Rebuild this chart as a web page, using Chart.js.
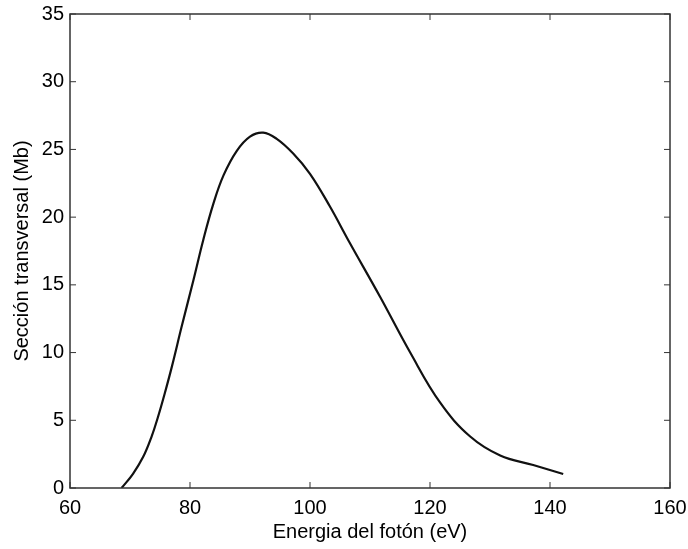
<!DOCTYPE html>
<html>
<head>
<meta charset="utf-8">
<script src="https://cdn.jsdelivr.net/npm/chart.js@4"></script>
<style>
  html, body { margin: 0; padding: 0; background: #fff; }
  #wrap { width: 688px; height: 549px; }
</style>
</head>
<body>
<div id="wrap"><canvas id="sigma-chart" width="688" height="549"></canvas></div>
<script>
// photon energy (eV) and cross section (Mb)
const energy = [68.6, 70.5, 72.2, 73.6, 74.7, 75.8, 77, 78.6, 80.6, 82.2, 83.9, 85.6, 87.8, 90, 92.2, 94.4, 97.2, 100, 103.3, 106.5, 111.7, 116.7, 121.7, 126.7, 131.7, 137.2, 142.2];
const sigma  = [0.0, 1.05, 2.3, 3.8, 5.3, 7.0, 9.0, 11.9, 15.4, 18.3, 21.0, 23.1, 24.9, 25.95, 26.24, 25.8, 24.7, 23.2, 20.8, 18.2, 14.1, 10.0, 6.3, 3.8, 2.4, 1.7, 1.03];
const xTicks = [60, 80, 100, 120, 140, 160];
const yTicks = [0, 5, 10, 15, 20, 25, 30, 35];

const axisColor = '#333';
const fontFam = '"Liberation Sans", Arial, sans-serif';

// box round the plot + inward ticks on all four sides (matlab style)
const boxTicks = {
  id: 'boxTicks',
  afterDatasetsDraw(chart)
  {
    let ctx = chart.ctx;
    let a = chart.chartArea;
    let xs = chart.scales.x, ys = chart.scales.y;
    let len = 6;
    ctx.save();
    ctx.strokeStyle = axisColor;
    ctx.lineWidth = 1.5;
    ctx.strokeRect(a.left, a.top, a.right - a.left, a.bottom - a.top);
    ctx.lineWidth = 1;
    ctx.beginPath();
    xTicks.forEach(v => {
      let px = xs.getPixelForValue(v);
      ctx.moveTo(px, a.bottom); ctx.lineTo(px, a.bottom - len);
      ctx.moveTo(px, a.top); ctx.lineTo(px, a.top + len);
    });
    yTicks.forEach(v => {
      let py = ys.getPixelForValue(v);
      ctx.moveTo(a.left, py); ctx.lineTo(a.left + len, py);
      ctx.moveTo(a.right, py); ctx.lineTo(a.right - len, py);
    });
    ctx.stroke();
    ctx.restore();
  }
};

let pts = energy.map((e, i) => ({ x: e, y: sigma[i] }));

let ctx = document.getElementById('sigma-chart').getContext('2d');
let chart = new Chart(ctx,
{
  type: 'line',
  data:
  {
    datasets: [
    {
      data: pts,
      borderColor: '#111',
      borderWidth: 2.2,
      pointRadius: 0,
      fill: false,
      tension: 0.4,
    }, ],
  },
  options:
  {
    responsive: false,
    animation: false,
    layout: { padding: { top: 14, right: 18, left: 0, bottom: 0 } },
    plugins: { legend: { display: false }, tooltip: { enabled: false } },
    scales:
    {
      x:
      {
        type: 'linear',
        min: 60,
        max: 160,
        afterBuildTicks: (s) => { s.ticks = xTicks.map(v => ({ value: v })); },
        afterFit: (s) => { s.height = 61; s.paddingLeft = 0; s.paddingRight = 0; },
        grid: { drawOnChartArea: false, drawTicks: false },
        border: { display: false },
        ticks: { color: '#000', padding: 8, maxRotation: 0, font: { family: fontFam, size: 20 } },
        title:
        {
          display: true,
          text: 'Energia del fotón (eV)',
          color: '#000',
          font: { family: fontFam, size: 20 },
          padding: { top: 5, bottom: 5 },
        },
      },
      y:
      {
        min: 0,
        max: 35,
        afterBuildTicks: (s) => { s.ticks = yTicks.map(v => ({ value: v })); },
        afterFit: (s) => { s.width = 70; s.paddingTop = 0; s.paddingBottom = 0; },
        grid: { drawOnChartArea: false, drawTicks: false },
        border: { display: false },
        ticks: { color: '#000', padding: 6, font: { family: fontFam, size: 20 } },
        title:
        {
          display: true,
          text: 'Sección transversal (Mb)',
          color: '#000',
          font: { family: fontFam, size: 20 },
          padding: { top: 10, bottom: 10 },
        },
      },
    },
  },
  plugins: [boxTicks],
});
</script>
</body>
</html>
